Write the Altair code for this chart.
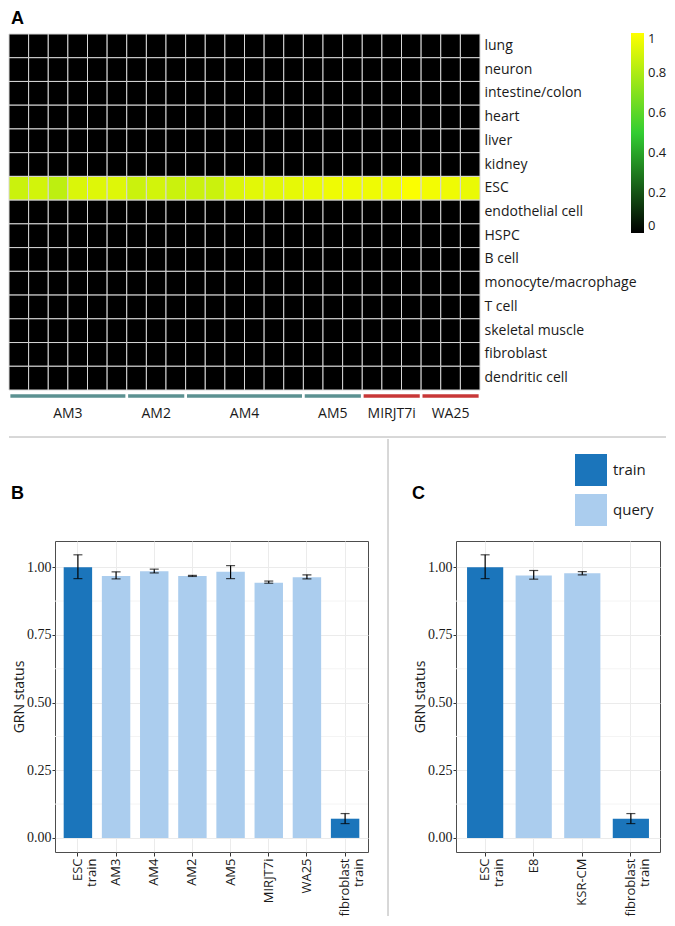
import altair as alt
import pandas as pd

# ---------------- Panel A data ----------------
tissues = ["lung", "neuron", "intestine/colon", "heart", "liver", "kidney", "ESC",
           "endothelial cell", "HSPC", "B cell", "monocyte/macrophage", "T cell",
           "skeletal muscle", "fibroblast", "dendritic cell"]
group_names = ["AM3", "AM2", "AM4", "AM5", "MIRJT7i", "WA25"]
group_sizes = [6, 3, 6, 3, 3, 3]
group_kind = ["AM", "AM", "AM", "AM", "ref", "ref"]
esc_scores = [0.87, 0.89, 0.84, 0.91, 0.92, 0.92, 0.87, 0.89, 0.87, 0.87, 0.87, 0.91,
              0.93, 0.93, 0.94, 0.95, 0.96, 0.96, 0.96, 0.96, 0.99, 0.97, 0.96, 0.95]
other_score = 0.0
legend_values = [0, 0.2, 0.4, 0.6, 0.8, 1]

# ---------------- Panel B data ----------------
b_samples = ["ESC|train", "AM3", "AM4", "AM2", "AM5", "MIRJT7i", "WA25", "fibroblast|train"]
b_kind = ["train", "query", "query", "query", "query", "query", "query", "train"]
b_mean = [1.000, 0.968, 0.985, 0.968, 0.983, 0.943, 0.963, 0.071]
b_low = [0.958, 0.957, 0.979, 0.966, 0.958, 0.941, 0.957, 0.053]
b_high = [1.046, 0.983, 0.993, 0.970, 1.006, 0.949, 0.972, 0.090]

# ---------------- Panel C data ----------------
c_samples = ["ESC|train", "E8", "KSR-CM", "fibroblast|train"]
c_kind = ["train", "query", "query", "train"]
c_mean = [1.000, 0.970, 0.978, 0.071]
c_low = [0.958, 0.956, 0.972, 0.053]
c_high = [1.046, 0.988, 0.984, 0.090]

y_ticks = [0, 0.25, 0.5, 0.75, 1.0]
minor_grid = [0.125, 0.375, 0.625, 0.875]

# ---------------- build tables ----------------
n_cols = sum(group_sizes)
heat_rows = []
for t in tissues:
    for c in range(n_cols):
        heat_rows.append({"tissue": t, "c0": c, "c1": c + 1,
                          "score": esc_scores[c] if t == "ESC" else other_score})
heat_df = pd.DataFrame(heat_rows)

g_rows = []
start = 0
for name, size, kind in zip(group_names, group_sizes, group_kind):
    g_rows.append({"name": name, "start": start, "end": start + size, "kind": kind})
    start += size
grp_df = pd.DataFrame(g_rows)

HEAT_W, HEAT_H = 471, 356
FONT = "Open Sans"
NARROW = "Liberation Sans Narrow"
one = pd.DataFrame({"d": [0]})

xq = alt.Scale(domain=[0, n_cols], nice=False, zero=False)

heat = alt.Chart(heat_df).mark_rect(stroke="#d6d6d6", strokeWidth=1).encode(
    x=alt.X("c0:Q", scale=xq, axis=None),
    x2="c1:Q",
    y=alt.Y("tissue:N", sort=tissues, scale=alt.Scale(paddingInner=0, paddingOuter=0),
            axis=alt.Axis(orient="right", title=None, ticks=False, domain=False,
                          labelFontSize=14, labelFont=FONT, labelColor="#1a1a1a",
                          labelPadding=4)),
    color=alt.Color("score:Q",
                    scale=alt.Scale(domain=[0, 0.5, 1], range=["#000000", "#32cd32", "#ffff00"],
                                    interpolate="rgb"),
                    legend=alt.Legend(orient="none", legendX=622, legendY=-1, title=None,
                                      direction="vertical", gradientLength=200,
                                      gradientThickness=13, gradientStrokeWidth=0,
                                      values=legend_values, format="~g",
                                      labelFontSize=13, labelFont=FONT, labelColor="#1a1a1a",
                                      labelOffset=4, padding=0)),
)

grp_rule = alt.Chart(grp_df).transform_calculate(
    g0="datum.start + 0.07", g1="datum.end - 0.07"
).mark_rule(strokeWidth=3.5).encode(
    x=alt.X("g0:Q", scale=xq, axis=None), x2="g1:Q",
    y=alt.value(HEAT_H + 6),
    stroke=alt.Stroke("kind:N", scale=alt.Scale(domain=["AM", "ref"], range=["#5b9191", "#c83737"]),
                      legend=None),
)
grp_text = alt.Chart(grp_df).transform_calculate(
    gm="(datum.start + datum.end) / 2"
).mark_text(fontSize=14, font=FONT, color="#1a1a1a", baseline="middle").encode(
    x=alt.X("gm:Q", scale=xq, axis=None),
    y=alt.value(HEAT_H + 24),
    text="name:N",
)
hdiv = alt.Chart(one).mark_rule(color="#b0b0b0", strokeWidth=1).encode(
    x=alt.value(0), x2=alt.value(657), y=alt.value(403))
letter_a = alt.Chart(one).mark_text(text="A", font="Liberation Sans", fontSize=18, fontWeight="bold",
                                    align="left", baseline="top", color="black").encode(
    x=alt.value(2), y=alt.value(-24))

panel_a = alt.layer(heat, grp_rule, grp_text, hdiv, letter_a).properties(
    width=HEAT_W, height=HEAT_H).resolve_scale(color="independent", stroke="independent")

# ---------------- bar panels ----------------
yscale = alt.Scale(domain=[-0.052, 1.097], nice=False, zero=False)
yaxis = alt.Axis(title="GRN status", values=y_ticks, format=".2f", grid=True, gridColor="#ebebeb",
                 tickColor="#333333", tickSize=3, domain=False, labelFont=NARROW, labelFontSize=14,
                 labelColor="#1a1a1a", labelPadding=1, titleFont=FONT, titleFontSize=14,
                 titleFontWeight="normal", titleColor="#1a1a1a", titlePadding=0)
kind_scale = alt.Scale(domain=["train", "query"], range=["#1b75bb", "#abcdee"])


def bar_panel(samples, kind, mean, low, high, width, letter, legend):
    df = pd.DataFrame({"sample": samples, "kind": kind, "mean": mean, "low": low, "high": high})
    x = alt.X("sample:N", sort=samples,
              scale=alt.Scale(paddingInner=0.255, paddingOuter=0.2275),
              axis=alt.Axis(title=None, labelAngle=-90, labelAlign="right", labelBaseline="middle",
                            labelExpr="split(datum.value, '|')", bandPosition=0.5, grid=True,
                            gridColor="#ebebeb", tickColor="#333333", tickSize=4, domain=False,
                            labelFontSize=13, labelFont=FONT, labelColor="#1a1a1a",
                            labelPadding=2, labelLineHeight=14))
    base = alt.Chart(df)
    minor = alt.Chart(pd.DataFrame({"g": minor_grid})).mark_rule(
        color="#f4f4f4", strokeWidth=1).encode(y=alt.Y("g:Q", scale=yscale, axis=yaxis))
    bars = base.mark_bar().encode(
        x=x, y=alt.Y("mean:Q", scale=yscale, axis=yaxis), y2=alt.datum(0),
        color=alt.Color("kind:N", scale=kind_scale, legend=legend))
    err = base.mark_rule(color="black", strokeWidth=1.2).encode(
        x=x, y=alt.Y("low:Q", scale=yscale, axis=yaxis), y2="high:Q")
    caps = base.transform_fold(["low", "high"], as_=["end", "val"]).mark_tick(
        size=9, thickness=1.2, color="black").encode(
        x=x, y=alt.Y("val:Q", scale=yscale, axis=yaxis))
    let = alt.Chart(one).mark_text(text=letter, font="Liberation Sans", fontSize=18, fontWeight="bold",
                                   align="left", baseline="top", color="black").encode(
        x=alt.value(-44), y=alt.value(-56))
    return alt.layer(minor, bars, err, caps, let).properties(
        width=width, height=311,
        view=alt.ViewBackground(stroke="#4d4d4d", strokeWidth=1))


legend_c = alt.Legend(orient="none", legendX=119, legendY=-87, title=None, symbolType="square",
                      symbolSize=1024, symbolStrokeWidth=0, symbolOpacity=1, labelFontSize=15,
                      labelFont=FONT, labelColor="#1a1a1a", rowPadding=8, labelOffset=6, padding=0)

panel_b = bar_panel(b_samples, b_kind, b_mean, b_low, b_high, 313, "B", None)
panel_c = bar_panel(c_samples, c_kind, c_mean, c_low, c_high, 204, "C", legend_c)

vdiv = alt.Chart(one).mark_rule(color="#b0b0b0", strokeWidth=1).encode(
    x=alt.value(0), y=alt.value(-102), y2=alt.value(375)).properties(width=1, height=311)

# invisible 1px spacer so that row 2 shares the left origin of the heatmap
spacer = alt.Chart(one).mark_rule(opacity=0).encode(
    x=alt.value(0), y=alt.value(0)).properties(width=1, height=311)

inner = alt.hconcat(
    alt.hconcat(panel_b, vdiv, spacing=18).resolve_scale(color="independent"),
    panel_c, spacing=22).resolve_scale(color="independent")
row2 = alt.hconcat(spacer, inner, spacing=0).resolve_scale(color="independent")

chart = alt.vconcat(panel_a, row2, spacing=0).resolve_scale(
    color="independent", stroke="independent").properties(
    padding={"left": 0, "top": 2, "right": 0, "bottom": 0}, background="white"
).configure_view(stroke=None)

chart.save("out.html", embed_options={"renderer": "svg", "actions": False})
